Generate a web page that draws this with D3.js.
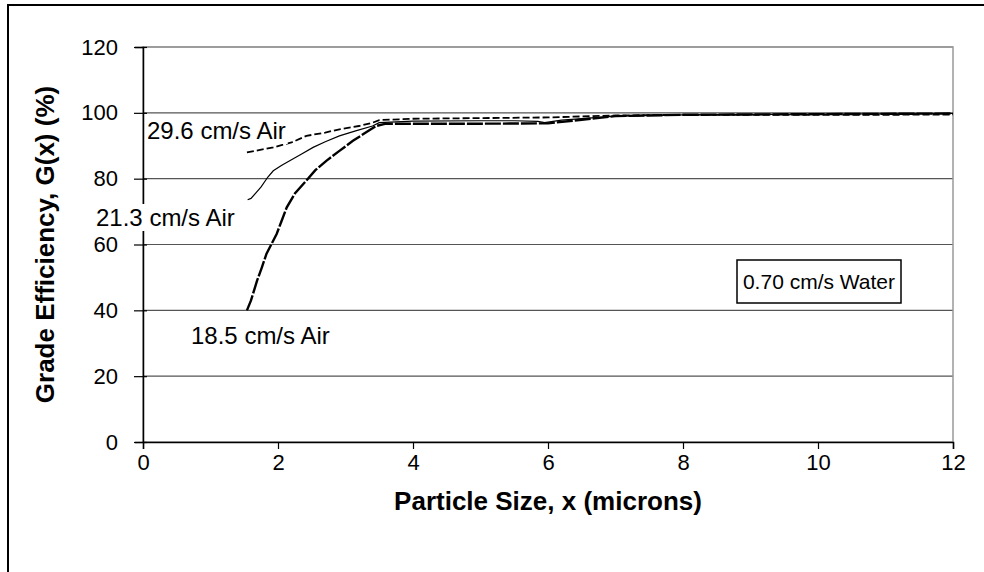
<!DOCTYPE html>
<html>
<head>
<meta charset="utf-8">
<script src="https://cdn.jsdelivr.net/npm/d3@7"></script>
<style>
  body { margin: 0; background: #fff; }
  text { font-family: Arial, "Liberation Sans", sans-serif; fill: #000; }
</style>
</head>
<body>
<div id="chart"></div>
<script>
// grade efficiency curves
var xAir296 = [1.54, 1.7, 1.93, 2.2, 2.42, 2.7, 2.91, 3.2, 3.4, 3.5, 4, 5, 6, 7, 8, 9, 10, 11, 12];
var yAir296 = [88, 88.6, 89.5, 91, 93, 94, 95, 96, 97, 97.8, 98.2, 98.4, 98.6, 99.2, 99.4, 99.4, 99.4, 99.4, 99.5];

var xAir213 = [1.55, 1.6, 1.66, 1.75, 1.85, 1.93, 2.05, 2.18, 2.35, 2.52, 2.7, 2.91, 3.15, 3.4, 3.5, 4, 5, 5.5, 5.85, 5.95, 6.2, 7, 8, 10, 12];
var yAir213 = [73.6, 74, 75.4, 77.5, 80.5, 82.4, 84, 85.5, 87.5, 89.5, 91.2, 93, 94.5, 96, 97, 97.5, 97.6, 97.6, 97.4, 97, 97.8, 99, 99.4, 99.6, 99.8];

var xAir185 = [1.54, 1.6, 1.69, 1.76, 1.83, 1.9, 1.98, 2.05, 2.13, 2.25, 2.42, 2.55, 2.72, 2.9, 3.11, 3.3, 3.45, 3.6, 4, 5, 6, 6.5, 7, 8, 10, 12];
var yAir185 = [40, 43, 49, 53, 57.2, 60, 63.2, 67, 71.3, 75.5, 79.4, 82.5, 85.5, 88.3, 91.5, 94, 96, 96.7, 96.7, 96.7, 96.8, 97.9, 99, 99.4, 99.6, 99.8];

var xTicks = [0, 2, 4, 6, 8, 10, 12];
var yTicks = [0, 20, 40, 60, 80, 100, 120];

var W = 984, H = 572;
var pL = 143, pR = 953, pT = 47, pB = 442;

var svg = d3.select("#chart").append("svg").attr("width", W).attr("height", H);

// outer chart frame (runs off the right and bottom)
svg.append("rect").attr("x", 8).attr("y", 5).attr("width", 1000).attr("height", 600)
    .attr("fill", "none").attr("stroke", "#000").attr("stroke-width", 2);

var x = d3.scaleLinear().domain([0, 12]).range([pL, pR]);
var y = d3.scaleLinear().domain([0, 120]).range([pB, pT]);

// gridlines
svg.append("g").selectAll("line").data(yTicks.filter(function(d) { return d > 0; })).enter().append("line")
    .attr("x1", pL).attr("x2", pR)
    .attr("y1", function(d) { return y(d); }).attr("y2", function(d) { return y(d); })
    .attr("stroke", "#555").attr("stroke-width", 1.2);

// plot area border
svg.append("rect").attr("x", pL).attr("y", pT).attr("width", pR - pL).attr("height", pB - pT)
    .attr("fill", "none").attr("stroke", "#999").attr("stroke-width", 1.5);

// axes
var xAxis = svg.append("g").attr("transform", "translate(0," + pB + ")")
    .call(d3.axisBottom(x).tickValues(xTicks).tickSize(7).tickPadding(5));
var yAxis = svg.append("g").attr("transform", "translate(" + pL + ",0)")
    .call(d3.axisLeft(y).tickValues(yTicks).tickSize(8).tickPadding(17));
[xAxis, yAxis].forEach(function(a) {
    a.select(".domain").attr("stroke", "#000").attr("stroke-width", 1.5);
    a.selectAll(".tick line").attr("stroke", "#000").attr("stroke-width", 1.2);
    a.selectAll("text").style("font-size", "22px").style("font-family", "Arial, 'Liberation Sans', sans-serif");
});
yAxis.selectAll(".tick line").attr("x2", -9).attr("x1", 4);

var line = d3.line().x(function(d) { return x(d[0]); }).y(function(d) { return y(d[1]); });
function pairs(xs, ys) { return xs.map(function(v, i) { return [v, ys[i]]; }); }

svg.append("path").datum(pairs(xAir213, yAir213)).attr("d", line)
    .attr("fill", "none").attr("stroke", "#000").attr("stroke-width", 1.2);
svg.append("path").datum(pairs(xAir185, yAir185)).attr("d", line)
    .attr("fill", "none").attr("stroke", "#000").attr("stroke-width", 2.4).attr("stroke-dasharray", "16,2");
svg.append("path").datum(pairs(xAir296, yAir296)).attr("d", line)
    .attr("fill", "none").attr("stroke", "#000").attr("stroke-width", 1.8).attr("stroke-dasharray", "7,3");

// curve labels
function label(txt, px, py, bg) {
    var t = svg.append("text").attr("x", px).attr("y", py).style("font-size", "24px").text(txt);
    if (bg) {
        var b = t.node().getBBox();
        svg.insert("rect", function() { return t.node(); })
            .attr("x", b.x - 2).attr("y", b.y).attr("width", b.width + 4).attr("height", b.height).attr("fill", "#fff");
    }
    return t;
}
label("29.6 cm/s Air", 147, 139, true);
label("21.3 cm/s Air", 96, 226, true);
label("18.5 cm/s Air", 191, 344, false);

// condition box
svg.append("text").attr("x", 819).attr("y", 289).attr("text-anchor", "middle")
    .style("font-size", "21px").text("0.70 cm/s Water");
svg.append("rect").attr("x", 737).attr("y", 260).attr("width", 164).attr("height", 43)
    .attr("fill", "none").attr("stroke", "#000").attr("stroke-width", 1.5);

// axis titles
svg.append("text").attr("x", (pL + pR) / 2).attr("y", 510).attr("text-anchor", "middle")
    .style("font-size", "26px").style("font-weight", "bold").text("Particle Size, x (microns)");
svg.append("text").attr("transform", "translate(54," + ((pT + pB) / 2) + ") rotate(-90)")
    .attr("text-anchor", "middle").style("font-size", "26px").style("font-weight", "bold")
    .text("Grade Efficiency, G(x) (%)");
</script>
</body>
</html>
